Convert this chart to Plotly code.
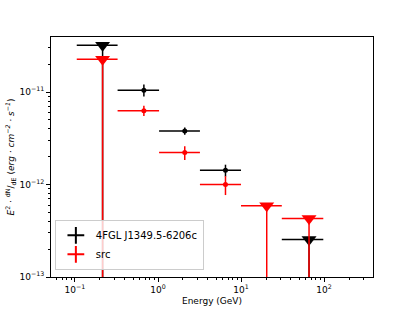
import plotly.graph_objects as go

# Energy bins (GeV)
energy = [0.215, 0.676, 2.1, 6.5, 20.4, 66.0]
e_lo = [0.105, 0.326, 1.03, 3.2, 10.0, 31.0]
e_hi = [0.326, 1.03, 3.2, 10.0, 31.0, 98.0]

# 4FGL catalog source
cat_name = "4FGL J1349.5-6206c"
cat_flux = [3.22e-11, 1.05e-11, 3.8e-12, 1.43e-12, None, 2.55e-13]
cat_err = [0, 1.55e-12, 3.4e-13, 2.1e-13, 0, 0]
cat_ul = [True, False, False, False, False, True]

# Analysis source
src_name = "src"
src_flux = [2.26e-11, 6.3e-12, 2.22e-12, 1.0e-12, 5.9e-13, 4.3e-13]
src_err = [0, 8.0e-13, 3.8e-13, 2.3e-13, 0, 0]
src_ul = [True, False, False, False, True, True]

# Tick labels
x_tickvals = [0.1, 1, 10, 100]
x_ticktext = ["10<sup>−1</sup>", "10<sup>0</sup>", "10<sup>1</sup>", "10<sup>2</sup>"]
y_tickvals = [1e-13, 1e-12, 1e-11]
y_ticktext = ["10<sup>−13</sup>", "10<sup>−12</sup>", "10<sup>−11</sup>"]

FLOOR = 1e-14

fig = go.Figure()


def add_series(name, flux, err, ul, color):
    idx_pt = [i for i in range(len(flux)) if flux[i] is not None and not ul[i]]
    idx_ul = [i for i in range(len(flux)) if flux[i] is not None and ul[i]]
    # upper limits
    fig.add_trace(go.Scatter(
        x=[energy[i] for i in idx_ul], y=[flux[i] for i in idx_ul],
        mode="markers", name=name, showlegend=False,
        marker=dict(symbol="triangle-down", size=13, color=color),
        error_x=dict(type="data", symmetric=False,
                     array=[e_hi[i] - energy[i] for i in idx_ul],
                     arrayminus=[energy[i] - e_lo[i] for i in idx_ul],
                     color=color, thickness=1.5, width=0),
        error_y=dict(type="data", symmetric=False,
                     array=[0 for i in idx_ul],
                     arrayminus=[flux[i] - FLOOR for i in idx_ul],
                     color=color, thickness=1.5, width=0),
    ))
    # detections
    fig.add_trace(go.Scatter(
        x=[energy[i] for i in idx_pt], y=[flux[i] for i in idx_pt],
        mode="markers", name=name, showlegend=False,
        marker=dict(symbol="circle", size=5, color=color),
        error_x=dict(type="data", symmetric=False,
                     array=[e_hi[i] - energy[i] for i in idx_pt],
                     arrayminus=[energy[i] - e_lo[i] for i in idx_pt],
                     color=color, thickness=1.5, width=0),
        error_y=dict(type="data", symmetric=True,
                     array=[err[i] for i in idx_pt],
                     color=color, thickness=1.5, width=0),
    ))
    # legend entry
    fig.add_trace(go.Scatter(
        x=[None], y=[None], mode="markers", name=name, showlegend=True,
        marker=dict(symbol="cross-thin", size=12, color=color,
                    line=dict(color=color, width=2)),
    ))


add_series(cat_name, cat_flux, cat_err, cat_ul, "#000000")
add_series(src_name, src_flux, src_err, src_ul, "#ff0000")

fig.update_layout(
    width=415, height=311,
    margin=dict(l=51, r=42, t=37, b=34),
    paper_bgcolor="white", plot_bgcolor="white",
    font=dict(family="DejaVu Sans", size=9, color="black"),
    showlegend=True,
    legend=dict(x=0.012, y=0.03, xanchor="left", yanchor="bottom",
                bgcolor="rgba(255,255,255,0.8)", bordercolor="#cccccc",
                borderwidth=1, font=dict(family="DejaVu Sans", size=10),
                tracegroupgap=0, itemwidth=30),
)

fig.update_xaxes(
    type="log", range=[-1.289, 2.59], automargin=False,
    showgrid=False, zeroline=False,
    showline=True, linecolor="black", linewidth=1, mirror=True,
    ticks="outside", ticklen=4, tickcolor="black",
    tickvals=x_tickvals, ticktext=x_ticktext,
    minor=dict(ticks="outside", ticklen=2, tickcolor="black", dtick="D1", showgrid=False),
    title=dict(text="Energy (GeV)", font=dict(family="DejaVu Sans", size=9), standoff=3),
    tickfont=dict(family="DejaVu Sans", size=9),
)
fig.update_yaxes(
    type="log", range=[-13, -10.404], automargin=False,
    showgrid=False, zeroline=False,
    showline=True, linecolor="black", linewidth=1, mirror=True,
    ticks="outside", ticklen=4, tickcolor="black",
    tickvals=y_tickvals, ticktext=y_ticktext,
    minor=dict(ticks="outside", ticklen=2, tickcolor="black", dtick="D1", showgrid=False),
    title=dict(text="<i>E</i><sup>2</sup> · <sup>dN</sup>/<sub>dE</sub> (<i>erg · cm<sup>−2</sup> · s<sup>−1</sup></i>)",
               font=dict(family="DejaVu Sans", size=9), standoff=3),
    tickfont=dict(family="DejaVu Sans", size=9),
)

fig.write_html("out.html", config={"displayModeBar": False},
               post_script="document.body.style.margin='0';")
